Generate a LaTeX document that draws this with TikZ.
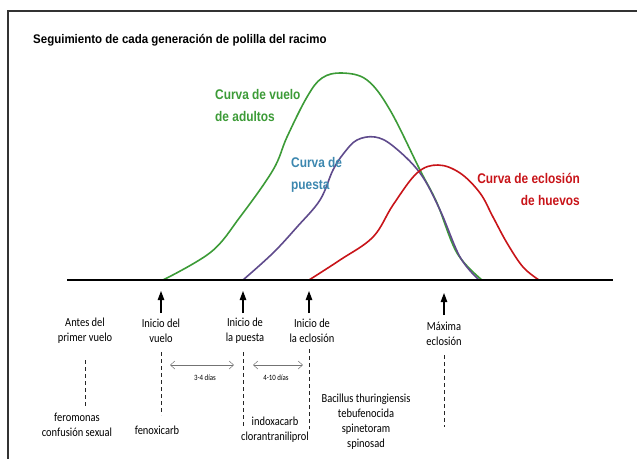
\documentclass[tikz,border=0pt]{standalone}
\usepackage{fontspec}
\setmainfont[FakeStretch=0.85]{Carlito}
\newfontfamily\narrowfont[FakeStretch=0.85]{Liberation Sans}
\newfontfamily\titlefont[FakeStretch=0.92]{Liberation Sans}
\usetikzlibrary{arrows,arrows.meta}

\definecolor{vuelo}{RGB}{60,155,55}
\definecolor{puesta}{RGB}{95,75,140}
\definecolor{eclosion}{RGB}{200,20,25}
\definecolor{puestatxt}{RGB}{60,135,175}

\begin{document}
\begin{tikzpicture}[x=1pt, y=-1pt, font=\fontsize{12.3}{15}\selectfont,
  curve/.style={line width=1.6pt},
  curvelabel/.style={font=\narrowfont\bfseries\fontsize{14}{22}\selectfont, inner sep=0pt},
  label/.style={align=center, inner sep=0pt},
  guide/.style={dash pattern=on 4pt off 3pt, line width=0.8pt, black!85},
  span/.style={{Straight Barb[length=4.5pt,width=8pt]}-{Straight Barb[length=4.5pt,width=8pt]}, black!55, line width=0.5pt},
  moment/.style={-{Triangle[length=9pt,width=6.5pt]}, line width=1.1pt},
]
\useasboundingbox (0,0) rectangle (637,459);

% marco
\draw[line width=1.3pt, black!80] (637,11) -- (8,11) -- (8,459);

\node[anchor=west, inner sep=0pt, font=\titlefont\bfseries\fontsize{12.5}{14}\selectfont] (title) at (33,40)
  {Seguimiento de cada generación de polilla del racimo};

% curvas
\draw[curve, vuelo] plot[smooth, tension=0.6] coordinates {(163,280) (211,252) (240,217) (273,170) (287,137)
  (307,97) (322,78) (342,73) (367,80) (390,110) (420,170) (437,203) (457,253) (482,280)};
\draw[curve, puesta] plot[smooth, tension=0.6] coordinates {(243,280) (273,253) (297,227) (320,200) (333,170)
  (344,153) (357,140) (375,137) (393,146) (420,173) (440,210) (460,257) (479,280)};
\draw[curve, eclosion] plot[smooth, tension=0.6] coordinates {(309,280) (340,260) (373,237) (393,205)
  (417,173) (438,165) (460,173) (480,193) (493,217) (507,243) (523,267) (539,280)};

\coordinate (axisL) at (67,280);
\coordinate (axisR) at (613,280);
\draw[line width=1.6pt] (axisL) -- (axisR);

\node[curvelabel, vuelo, align=left, anchor=west] (lvuelo) at (215,105) {Curva de vuelo\\de adultos};
\node[curvelabel, puestatxt, align=left, anchor=west] (lpuesta) at (291,175) {Curva de\\puesta};
\node[curvelabel, eclosion, align=right, anchor=east] (leclosion) at (580,189) {Curva de eclosión\\de huevos};

% momentos
\coordinate (a1) at (161,313); \coordinate (b1) at (161,291);
\coordinate (a2) at (243,313); \coordinate (b2) at (243,291);
\coordinate (a3) at (309,313); \coordinate (b3) at (309,291);
\coordinate (a4) at (444,315); \coordinate (b4) at (444,293);
\foreach \i in {1,...,4}
  \draw[moment] (a\i) -- (b\i);

\node[label] (antes) at (85,331) {Antes del\\primer vuelo};
\node[label] (ivuelo) at (161,331) {Inicio del\\vuelo};
\node[label] (ipuesta) at (245,331) {Inicio de\\la puesta};
\node[label] (ieclosion) at (312,331) {Inicio de\\la eclosión};
\node[label] (maxima) at (444,334) {Máxima\\eclosión};

% lineas de trazos
\coordinate (d1) at (85,360);  \coordinate (e1) at (85,407);
\coordinate (d2) at (161,352); \coordinate (e2) at (161,415);
\coordinate (d3) at (243,352); \coordinate (e3) at (243,426);
\coordinate (d4) at (309,349); \coordinate (e4) at (309,429);
\coordinate (d5) at (444,355); \coordinate (e5) at (444,427);
\foreach \i in {1,...,5}
  \draw[guide] (d\i) -- (e\i);

\coordinate (s1) at (170,365); \coordinate (t1) at (234,365);
\coordinate (s2) at (253,365); \coordinate (t2) at (303,365);
\draw[span] (s1) -- (t1);
\draw[span] (s2) -- (t2);
\node[label, font=\fontsize{8.1}{9}\selectfont] (dias1) at (205,378) {3-4 días};
\node[label, font=\fontsize{8.1}{9}\selectfont] (dias2) at (276,378) {4-10 días};

% tratamientos
\node[label] (feromonas) at (77,425) {feromonas\\confusión sexual};
\node[label] (fenoxicarb) at (157,430) {fenoxicarb};
\node[label] (indoxacarb) at (275,430) {indoxacarb\\clorantraniliprol};
\node[label] (bacillus) at (366,422) {Bacillus thuringiensis\\tebufenocida\\spinetoram\\spinosad};

\end{tikzpicture}
\end{document}
